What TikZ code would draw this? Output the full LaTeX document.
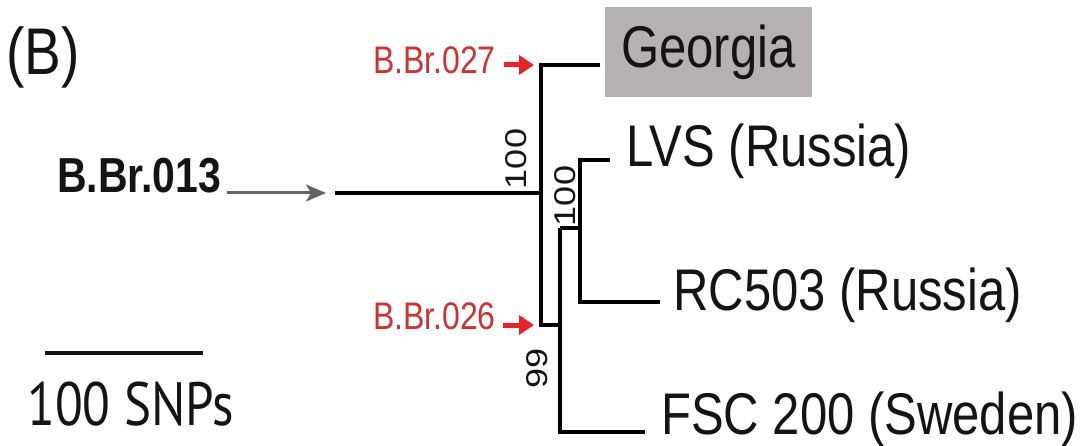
\documentclass[tikz,border=0pt]{standalone}
\usepackage{fontspec}
\usepackage{graphicx}
\setmainfont{Liberation Sans}
\newfontfamily\barfont{PT Sans}
\usetikzlibrary{arrows.meta}

\definecolor{boxgray}{RGB}{181,177,178}
\definecolor{labred}{RGB}{205,50,50}
\definecolor{arrred}{RGB}{232,36,40}
\definecolor{arrgray}{RGB}{100,100,100}
\definecolor{ink}{RGB}{20,20,20}

% text in the figure is a little stretched upwards
\newcommand{\tall}[1]{\scalebox{1}[1.2]{#1}}
\newcommand{\broad}[1]{\scalebox{1.2}[1]{#1}}

\tikzset{
    taxon/.style={inner sep=0, anchor=base west, text=ink, font=\fontsize{49}{50}\selectfont},
    boot/.style={inner sep=0, rotate=90, text=ink, font=\fontsize{30}{31}\selectfont},
    redlab/.style={inner sep=0, anchor=base east, text=labred, font=\fontsize{32}{33}\selectfont},
    redarrow/.style={arrred, line width=5pt, -{Triangle[length=15pt,width=19pt]}},
    grayarrow/.style={arrgray, line width=3pt, -{Stealth[length=20pt,width=17pt,inset=5pt]}}
}

\begin{document}
\begin{tikzpicture}[x=1pt, y=-1pt, line width=4.5pt]
    \useasboundingbox (0,0) rectangle (1092,446);

    % panel letter
    \node[inner sep=0, anchor=base west, text=ink, font=\fontsize{55}{56}\selectfont] (panel) at (4,75) {\tall{(B)}};

    % branch points of the tree
    \coordinate (root) at (335,193);
    \coordinate (top) at (541,65);
    \coordinate (low) at (541,325);
    \coordinate (sub) at (560,228);
    \coordinate (clade) at (580,228);
    \coordinate (geo) at (600,65);
    \coordinate (lvs) at (610,160);
    \coordinate (rc) at (660,302);
    \coordinate (fsc) at (645,432);

    % tree
    \draw (root) -- (root -| top);
    \draw (geo) -| (low) -- (low -| sub);
    \draw (sub) |- (fsc);
    \draw (sub) -- (clade);
    \draw (lvs) -| (clade) |- (rc);

    % tips
    \node[fill=boxgray, inner sep=0, minimum width=207pt, minimum height=90pt, text=ink,
          font=\fontsize{49}{50}\selectfont] (georgia) at (708.5,52) {\tall{Georgia}};
    \node[taxon] (lvsname) at (624,167) {\tall{LVS (Russia)}};
    \node[taxon] (rcname) at (671,311) {\tall{RC503 (Russia)}};
    \node[taxon] (fscname) at (659,434) {\tall{FSC 200 (Sweden)}};

    % bootstrap values
    \node[boot] (bs1) at (516,159) {\broad{100}};
    \node[boot] (bs2) at (565,196) {\broad{100}};
    \node[boot] (bs3) at (537,368) {\broad{99}};

    % canSNP markers
    \node[redlab] (b027) at (498,74) {\tall{B.Br.027}};
    \node[redlab] (b026) at (498,329) {\tall{B.Br.026}};
    \draw[redarrow] ([xshift=6pt]b027.east |- top) -- ([xshift=-7pt]top);
    \draw[redarrow] ([xshift=5pt]b026.east |- low) -- ([xshift=-7pt]low);

    \node[inner sep=0, anchor=base west, text=ink, font=\bfseries\fontsize{41}{42}\selectfont] (b013) at (55,193) {\tall{B.Br.013}};
    \draw[grayarrow] ([xshift=3pt]b013.east |- root) -- ([xshift=-9pt]root);

    % scale bar
    \coordinate (barl) at (45,353);
    \coordinate (barr) at (203,353);
    \draw[line width=4pt, ink] (barl) -- (barr);
    \node[inner sep=0, anchor=base west, text=ink, font=\barfont\fontsize{51}{52}\selectfont] (barname) at (25,425) {\tall{100 SNPs}};
\end{tikzpicture}
\end{document}
